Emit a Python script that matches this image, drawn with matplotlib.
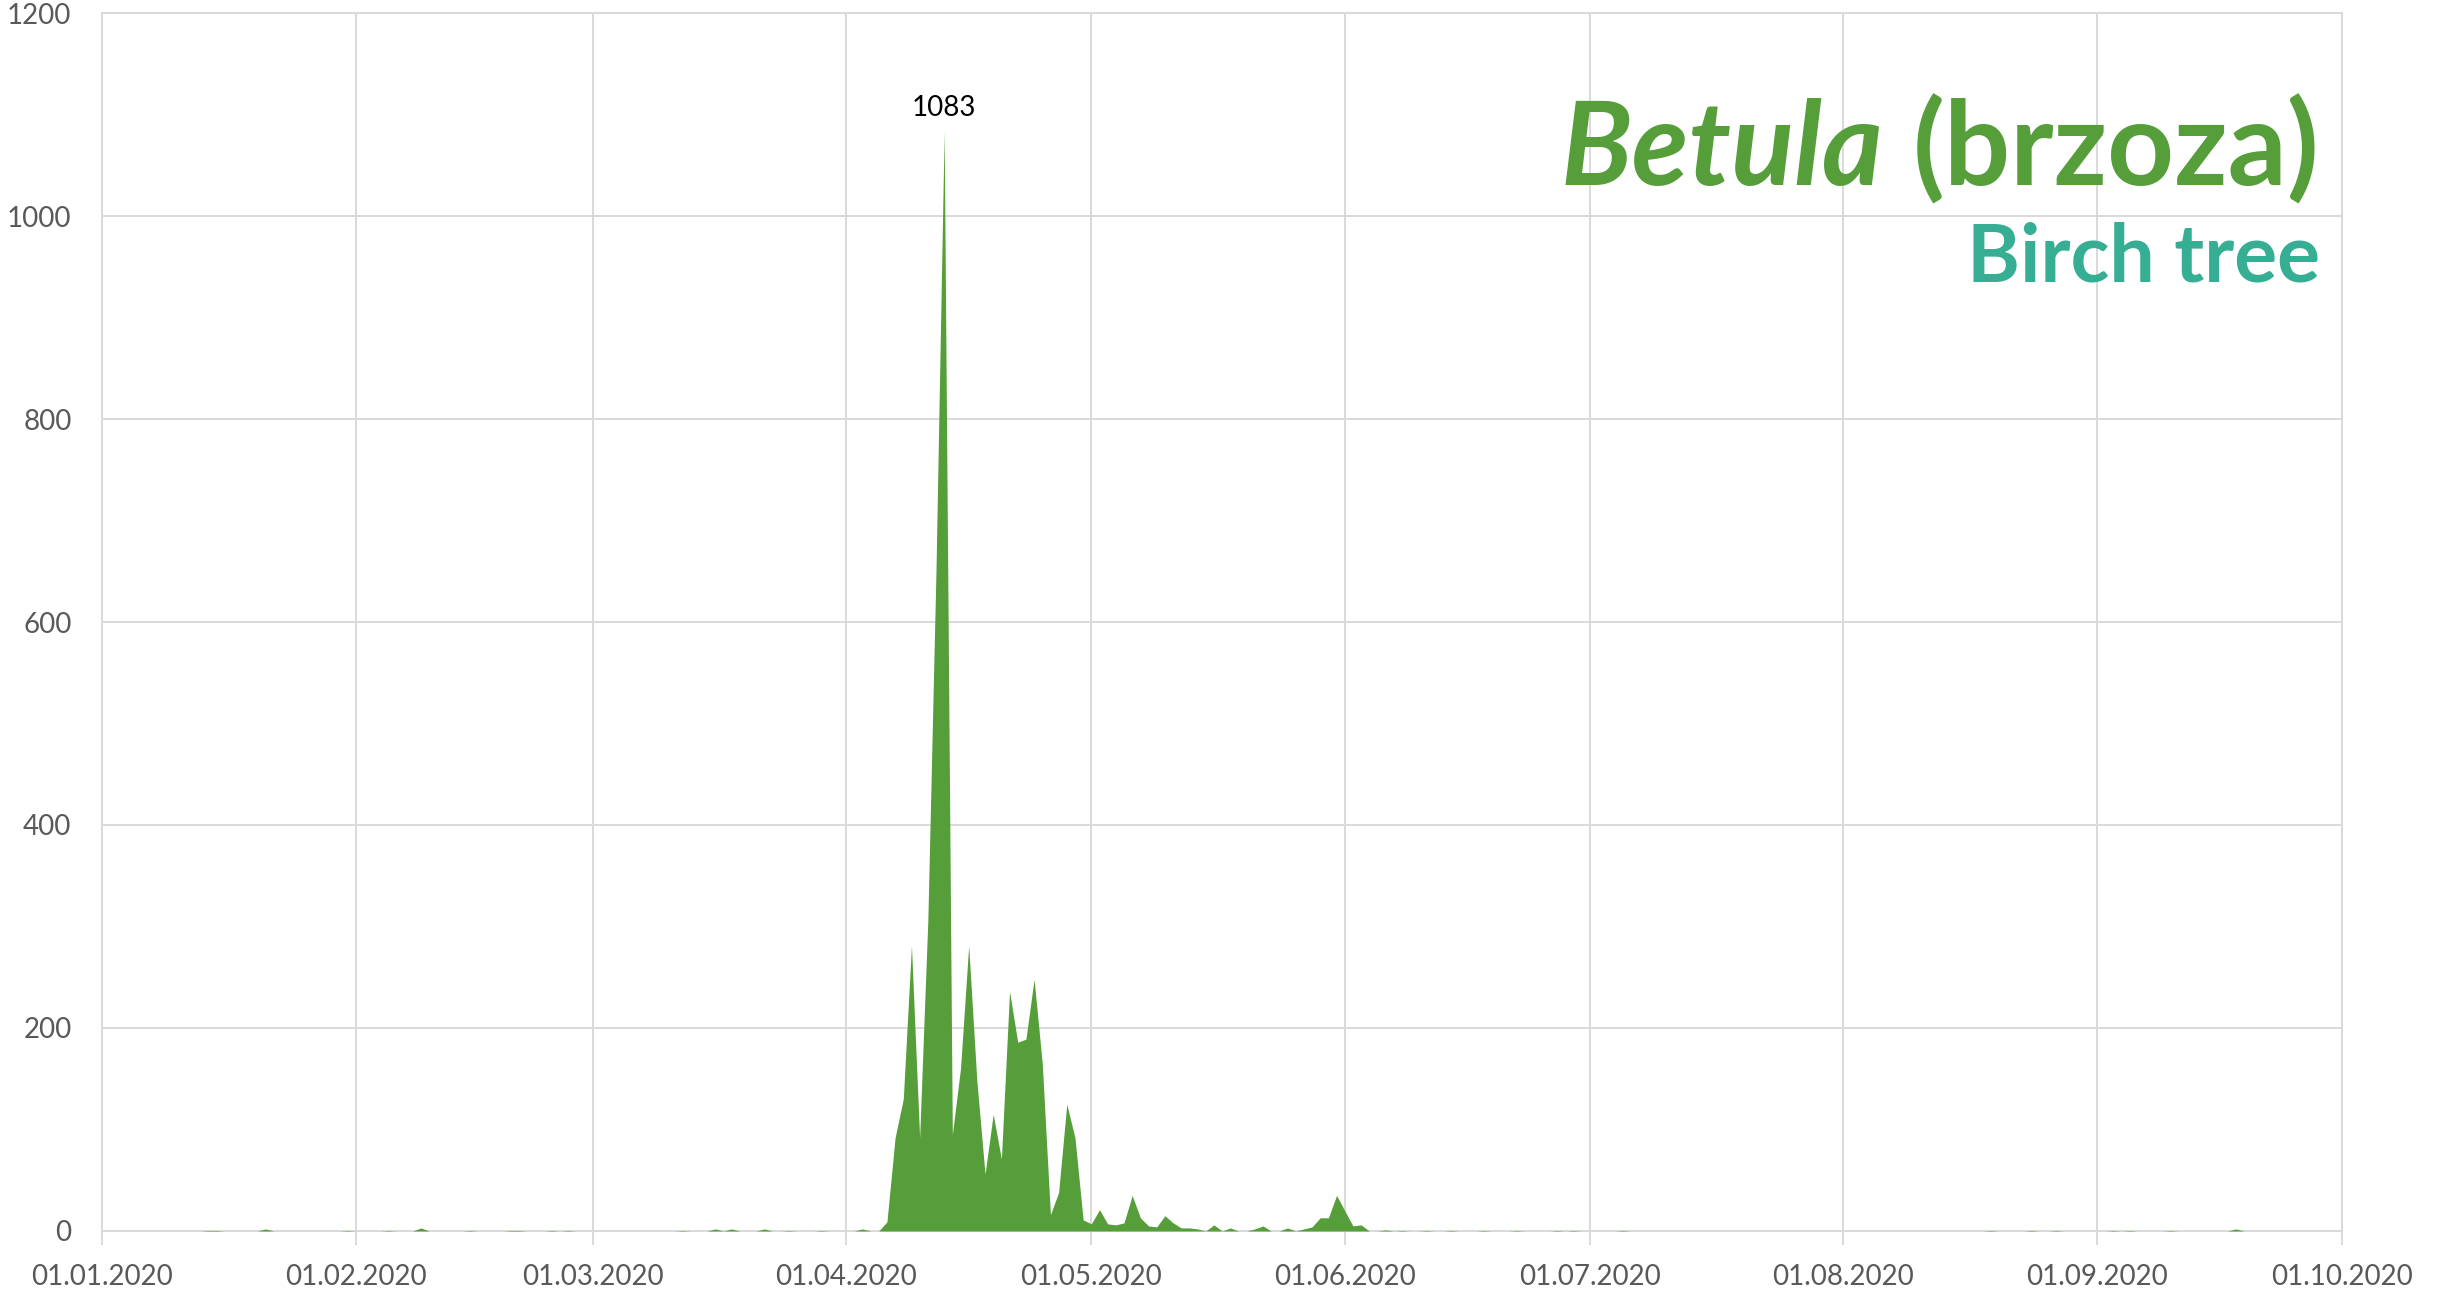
import pandas as pd
import matplotlib
matplotlib.use("Agg")
import matplotlib.pyplot as plt
import matplotlib.dates as mdates

# daily Betula pollen counts (days not listed are 0)
dates = [
    "2020-01-14", "2020-01-15", "2020-01-21", "2020-01-31", "2020-02-05",
    "2020-02-09", "2020-02-15", "2020-02-20", "2020-02-21", "2020-02-25",
    "2020-02-27", "2020-03-12", "2020-03-16", "2020-03-18", "2020-03-22",
    "2020-03-25", "2020-03-29", "2020-04-03",
    "2020-04-06", "2020-04-07", "2020-04-08", "2020-04-09", "2020-04-10",
    "2020-04-11", "2020-04-12", "2020-04-13", "2020-04-14", "2020-04-15",
    "2020-04-16", "2020-04-17", "2020-04-18", "2020-04-19", "2020-04-20",
    "2020-04-21", "2020-04-22", "2020-04-23", "2020-04-24", "2020-04-25",
    "2020-04-26", "2020-04-27", "2020-04-28", "2020-04-29", "2020-04-30",
    "2020-05-01", "2020-05-02", "2020-05-03", "2020-05-04", "2020-05-05",
    "2020-05-06", "2020-05-07", "2020-05-08", "2020-05-09", "2020-05-10",
    "2020-05-11", "2020-05-12", "2020-05-13", "2020-05-14", "2020-05-16",
    "2020-05-18", "2020-05-21", "2020-05-22", "2020-05-25", "2020-05-27",
    "2020-05-28", "2020-05-29", "2020-05-30", "2020-05-31", "2020-06-01",
    "2020-06-02", "2020-06-03", "2020-06-06", "2020-06-08", "2020-06-11",
    "2020-06-14", "2020-06-18", "2020-06-22", "2020-06-27", "2020-06-29",
    "2020-07-05", "2020-08-19", "2020-08-24", "2020-08-27", "2020-09-03",
    "2020-09-05", "2020-09-10", "2020-09-18",
]
counts = [
    0.5, 0.5, 2, 0.5, 0.5,
    3, 0.5, 0.5, 0.5, 0.5,
    0.5, 0.5, 2, 2, 2,
    0.5, 0.5, 2,
    9, 92, 130, 281, 92,
    305, 650, 1083, 95, 160,
    281, 148, 56, 115, 71,
    236, 186, 189, 248, 165,
    16, 38, 125, 92, 11,
    7, 21, 7, 6, 8,
    35, 13, 5, 4, 15,
    8, 3, 3, 2, 6,
    3, 2, 5, 3, 2,
    4, 13, 13, 35, 20,
    5, 6, 1, 0.5, 0.5,
    0.5, 0.5, 0.5, 0.5, 0.5,
    0.5, 0.5, 0.5, 0.5, 0.5,
    0.5, 0.5, 2,
]
peak_label = "1083"

GREEN = "#559E3A"
TEAL = "#35AE93"
GRID = "#D9D9D9"
TICK = "#595959"

plt.rcParams["font.family"] = ["Lato", "DejaVu Sans"]

s = pd.Series(counts, index=pd.to_datetime(dates))
days = pd.date_range("2020-01-01", "2020-09-30", freq="D")
s = s.reindex(days, fill_value=0)

fig = plt.figure(figsize=(24.43, 12.91), dpi=100)
ax = fig.add_axes([0.0418, 0.0465, 0.9169, 0.9434])

ax.fill_between(s.index, s.values, 0, color=GREEN, lw=0, zorder=3)

ax.set_xlim(pd.Timestamp("2020-01-01"), pd.Timestamp("2020-10-01"))
ax.set_ylim(0, 1200)
ax.set_yticks(range(0, 1201, 200))
ax.xaxis.set_major_locator(mdates.MonthLocator())
ax.xaxis.set_major_formatter(mdates.DateFormatter("%d.%m.%Y"))

ax.grid(True, color=GRID, lw=1.4, zorder=0)
for sp in ax.spines.values():
    sp.set_color(GRID)
    sp.set_linewidth(1.4)
ax.tick_params(axis="x", colors=GRID, length=10, width=1.4, pad=14,
               labelcolor=TICK, labelsize=20)
ax.tick_params(axis="y", length=0, pad=22, labelcolor=TICK, labelsize=20)

peak_day = s.idxmax()
ax.annotate(peak_label, (peak_day, s.max()), xytext=(0, 8),
            textcoords="offset points", ha="center", va="bottom",
            fontsize=20, color="black")

# title: "Betula" italic + "(brzoza)" upright, right-aligned
fig.canvas.draw()
r = fig.canvas.get_renderer()
t2 = fig.text(2320 / 2443, 1 - 185 / 1291, "(brzoza)", ha="right",
              va="baseline", fontsize=84, fontweight="bold", color=GREEN)
bb = t2.get_window_extent(r)
fig.text((bb.x0 - 30) / 2443, 1 - 185 / 1291, "Betula", ha="right",
         va="baseline", fontsize=84, fontweight="bold", fontstyle="italic",
         color=GREEN)
fig.text(2320 / 2443, 1 - 282 / 1291, "Birch tree", ha="right",
         va="baseline", fontsize=58, fontweight="bold", color=TEAL)

fig.savefig("out.png", dpi=100)
